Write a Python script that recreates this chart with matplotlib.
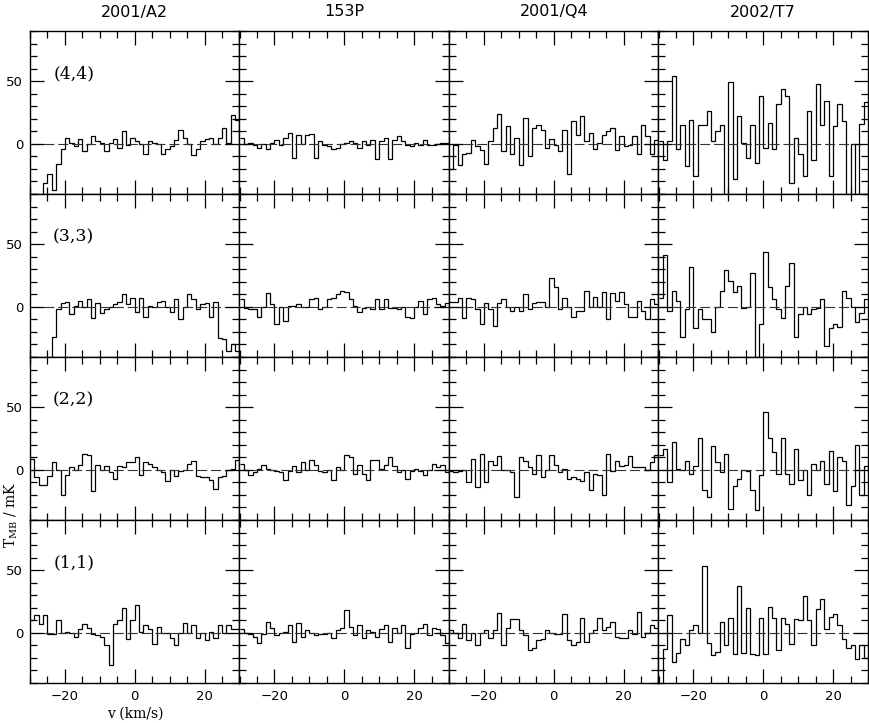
import numpy as np
import matplotlib
matplotlib.use("Agg")
import matplotlib.pyplot as plt
from matplotlib.ticker import MultipleLocator, FixedLocator

# ---------------- data ----------------
comets = ["2001/A2", "153P", "2001/Q4", "2002/T7"]
transitions = ["(4,4)", "(3,3)", "(2,2)", "(1,1)"]
v_start = -30.0
chan_width = 1.25
x_ticks = [-20, 0, 20]
y_ticks = [0, 50]

# (4,4)
a2_44 = [-50, -50, -50, -31, -24, -37, -16, -4, 5, 1, -2, 4, -6, 0, 6, 2, 1, -6, 1, 4,
         -3, 10, -1, 5, 2, 0, -8, 2, 1, 0, -8, -4, -2, 3, 11, 5, 0, -9, -4, 2,
         4, 5, 0, 5, 13, 1, 23, 19]
p153_44 = [5, 0, 1, -1, -3, 0, -4, 1, 3, -1, 5, 9, -11, 7, 0, 7, 8, -11, 2, -1,
           -2, -4, -3, 0, 1, 2, 1, -3, 2, -1, 3, -12, 2, 5, -12, 3, 6, 2, -1, -2,
           1, -1, 3, -1, -1, 0, 1, 1]
q4_44 = [-20, -1, -17, -8, -7, 3, -2, -5, -16, 2, 13, 24, -6, 14, -8, 5, -17, 21, -10, 13,
         15, 11, -3, 4, -1, -6, 11, -24, 18, 7, 22, 2, 9, -4, 1, 7, 10, 13, -5, 6,
         -2, -1, 6, -8, 15, 6, -8, 3]
t7_44 = [2, -13, 2, 54, -4, 15, -18, 19, -26, 15, 15, 26, 2, 10, 15, -50, 49, -28, 22, 1,
         -11, 15, -15, 38, -3, 17, -4, 32, 44, 38, -31, 5, -8, -26, 26, -13, 48, 15, 34, -26,
         14, 32, 18, -50, 0, -50, 16, 33]
# (3,3)
a2_33 = [-50, -50, -50, -50, -50, -24, -2, 3, 4, -6, 1, 5, 0, 6, -9, 3, -5, -2, 0, 2,
         4, 10, 2, 7, -4, 7, -8, 1, 0, 4, 5, 0, -4, 6, -10, 0, 10, 6, -2, 2,
         3, -8, 4, -25, -26, -35, -30, -35]
p153_33 = [6, -1, -2, -2, -8, 0, 11, 2, -14, 0, -11, 1, 1, 2, 0, 0, 6, 7, -2, 0,
           6, 7, 10, 13, 12, 6, 1, -4, -1, 0, -2, 6, -2, 6, -1, -1, -2, 0, -8, -9,
           0, 5, -6, 6, 7, 2, 1, 3]
q4_33 = [4, 4, 7, -9, 7, 6, -2, -14, 3, -2, -15, 3, 6, 0, -3, 0, -3, 10, -2, 3,
         4, 4, 0, 23, 16, -2, 7, 0, -8, -3, -3, 13, 0, 8, 0, 12, -10, 11, 5, 12,
         2, -8, -8, 5, -3, -10, 6, 2]
t7_33 = [7, 41, -3, 13, 5, -24, -2, 32, -17, -2, -10, -10, -20, 0, 13, 29, 21, 12, 17, -1,
         0, 27, -50, -14, 44, 16, 6, -2, -9, 17, 35, -24, -6, 0, -6, -2, -1, 6, -31, -17,
         -14, -16, 13, 7, 0, -12, -5, 6]
# (2,2)
a2_22 = [9, -6, -12, -12, -5, 6, 0, -20, -4, 2, 0, 4, 13, 12, -17, 4, 0, 3, -2, -7,
         3, 2, 6, 6, 10, -4, 6, 5, 2, 0, -2, -9, 0, -5, -1, 0, 5, 7, -5, -6,
         -6, -8, -15, -6, -5, 0, 1, 8]
p153_22 = [5, 0, -4, -2, 1, 4, 1, 0, -1, -2, -8, -1, 3, -2, 6, 0, 8, 4, -1, -2,
           0, -8, 2, 0, 12, 10, -3, 4, -3, -8, 8, 8, 1, 4, 10, 3, -2, 0, -7, -1,
           1, -1, -4, 0, 5, 2, 4, -2]
q4_22 = [-1, -2, -1, 0, -10, 9, -14, 13, -10, 7, 4, 11, 0, 0, -2, -22, 10, 7, 2, -3,
         12, -6, 0, 12, 4, -2, 1, -7, -6, -7, -9, -2, -16, -3, -4, -20, 13, -1, 7, 3,
         4, 11, 2, 2, 2, 0, 6, 12]
t7_22 = [12, 17, -10, 22, 1, 0, 7, -3, 3, 25, -16, -22, 19, 6, -2, 13, -31, -13, -7, 0,
         -1, -16, -32, -4, 46, 25, 14, -3, 25, -3, -11, 17, -8, 0, -20, 5, 0, 7, -11, 15,
         -17, 10, 7, -28, -13, 20, -20, 3]
# (1,1)
a2_11 = [10, 14, 7, 14, -1, -1, 10, 0, 1, 0, -3, 3, 7, 4, -1, -2, -3, -10, -26, 7,
         10, 20, -5, 10, 22, 1, 6, 3, -9, 5, 0, 0, -4, -10, 0, 8, 0, 6, -4, 0,
         -6, 1, -4, 6, 0, 6, 3, 3]
p153_11 = [3, 0, -1, -3, -8, -1, 9, 4, -2, 0, 1, 6, -7, 8, -3, 2, 0, -2, -1, -1,
           0, -4, 2, 4, 18, 5, -2, 6, -4, 2, 1, -3, 3, 6, -7, 4, 0, 6, -12, -1,
           0, 4, 7, -2, 4, 3, -2, -8]
q4_11 = [2, 0, -4, 7, -6, 0, -10, 0, 2, -4, 2, 16, -10, 4, 11, 11, 2, -2, -14, -12,
         -6, -5, 2, 0, -1, -1, 15, -6, -10, -7, 12, -7, 0, 2, 12, 2, 5, 9, -3, -4,
         -4, 2, -1, 17, -3, 0, 6, 4]
t7_11 = [-50, -13, 14, -23, -16, -5, -10, 2, 6, 0, 53, -8, -18, -15, 9, -10, 12, -17, 37, -16,
         20, -17, -18, 12, -17, 21, 12, -14, 12, 7, -9, 11, 10, 29, 10, -10, 19, 27, 3, 13,
         15, 6, -5, -12, -10, -21, -10, -20]

spectra = [
    [a2_44, p153_44, q4_44, t7_44],
    [a2_33, p153_33, q4_33, t7_33],
    [a2_22, p153_22, q4_22, t7_22],
    [a2_11, p153_11, q4_11, t7_11],
]

# ---------------- figure ----------------
W, H = 870, 723
fig = plt.figure(figsize=(W / 100, H / 100), dpi=100)

col_left = [30, 239.5, 449, 658.5]
pw = 209.5
row_top = [31, 194, 357, 520]
ph = 163

for r in range(4):
    for c in range(4):
        ax = fig.add_axes([col_left[c] / W, 1 - (row_top[r] + ph) / H, pw / W, ph / H])
        vals = np.array(spectra[r][c], dtype=float)
        edges = v_start + chan_width * np.arange(len(vals) + 1)
        ax.stairs(vals, edges, color="black", lw=0.9, baseline=None)
        ax.axhline(0, color="#333333", lw=0.8, ls=(0, (9, 3.5)), zorder=1)
        ax.set_xlim(-30, 30)
        ax.set_ylim(-40, 90)
        ax.xaxis.set_major_locator(FixedLocator(x_ticks))
        ax.xaxis.set_minor_locator(MultipleLocator(5))
        ax.yaxis.set_major_locator(FixedLocator(y_ticks))
        ax.yaxis.set_minor_locator(MultipleLocator(10))
        ax.tick_params(which="both", direction="in", top=True, right=True,
                       labelleft=(c == 0), labelbottom=(r == 3),
                       labelsize=9.5, width=0.9, color="black")
        ax.tick_params(which="major", length=10, pad=5)
        ax.tick_params(which="minor", length=5)
        for s in ax.spines.values():
            s.set_linewidth(1.0)
        if c == 0:
            ax.text(-17.5, 56, transitions[r], ha="center", va="center",
                    fontsize=12.5, family="DejaVu Serif")

for c in range(4):
    fig.text((col_left[c] + pw / 2) / W, 1 - 12 / H, comets[c], ha="center",
             va="center", fontsize=11.5, family="DejaVu Sans")

plt.rcParams["mathtext.fontset"] = "dejavuserif"
fig.text(135 / W, 1 - 714 / H, "v (km/s)", ha="center", va="center",
         fontsize=10, family="DejaVu Serif")
fig.text(11 / W, 1 - 515 / H, r"T$_{\rm MB}$ / mK", ha="center", va="center",
         rotation=90, fontsize=10, family="DejaVu Serif")

fig.savefig("out.png", dpi=100)
